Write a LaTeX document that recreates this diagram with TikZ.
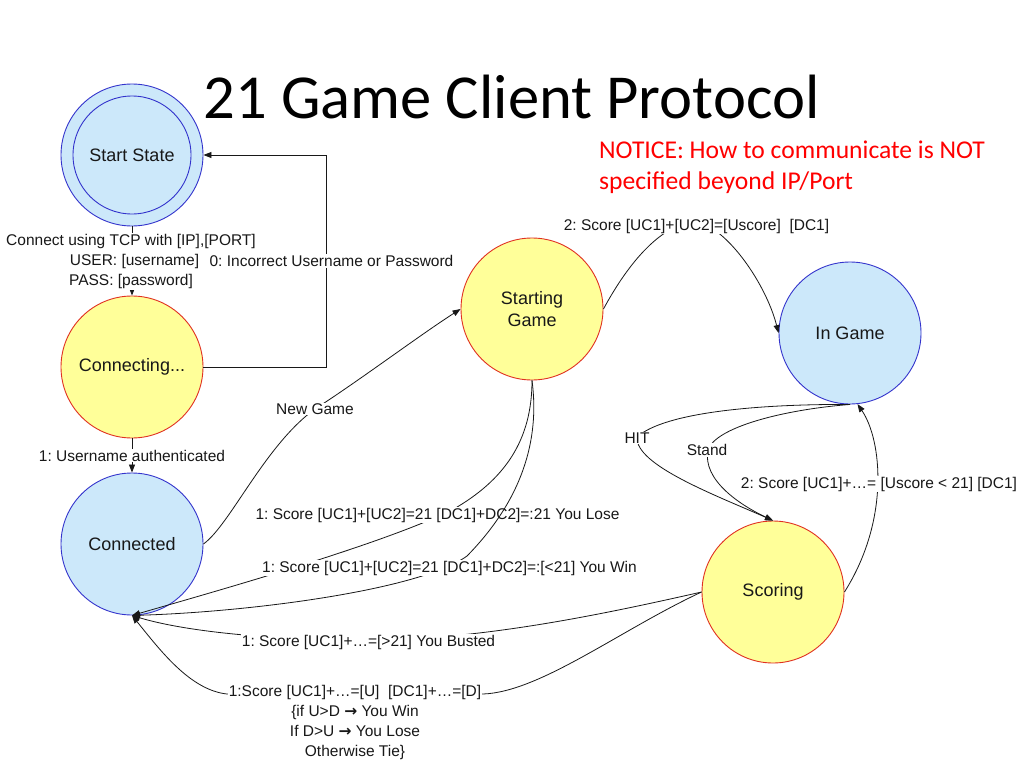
\documentclass[tikz,border=0pt]{standalone}
\usepackage{fontspec}
\setmainfont{Liberation Sans}
\newfontfamily\titlefont{Carlito}
\newfontfamily\arrowfont{DejaVu Sans}
\usetikzlibrary{arrows.meta}
\definecolor{bfill}{RGB}{204,232,250}
\definecolor{bdraw}{RGB}{51,51,204}
\definecolor{yfill}{RGB}{255,255,153}
\definecolor{ydraw}{RGB}{224,48,32}
\definecolor{ink}{RGB}{24,24,24}
\definecolor{noticered}{RGB}{255,0,0}
\newcommand{\rarr}{{\arrowfont\bfseries →}}
\frenchspacing
\begin{document}
\begin{tikzpicture}[x=1pt,y=-1pt,
  state/.style={circle,minimum size=142pt,inner sep=0pt,line width=0.9pt,
    font=\fontsize{18}{22}\selectfont,text=ink,align=center},
  bstate/.style={state,fill=bfill,draw=bdraw},
  ystate/.style={state,fill=yfill,draw=ydraw},
  edge/.style={draw=ink,line width=0.8pt,-{Triangle[length=8pt,width=6pt]}},
  lbl/.style={fill=white,inner sep=1pt,font=\fontsize{15.5}{20}\selectfont,text=ink,align=center}]
\path[use as bounding box] (0,0) rectangle (1024,768);

% title and notice
\node[font=\titlefont\fontsize{62.6}{75}\selectfont,anchor=base,inner sep=0pt,text=black] (title) at (511.5,118) {21 Game Client Protocol};
\node[font=\titlefont\fontsize{25.6}{31}\selectfont,anchor=base west,inner sep=0pt,text=noticered] (n1) at (599,158) {NOTICE: How to communicate is NOT};
\node[font=\titlefont\fontsize{25.6}{31}\selectfont,anchor=base west,inner sep=0pt,text=noticered] (n2) at (599,189) {specified beyond IP/Port};

% states
\node[bstate] (start) at (132,155) {};
\node[bstate,minimum size=118pt] (startin) at (132,155) {Start State};
\node[ystate] (conn) at (132,367) {Connecting...};
\node[bstate] (cted) at (132,544) {Connected};
\node[ystate] (sg) at (532,309) {Starting\\Game};
\node[bstate] (ing) at (850,333) {In Game};
\node[ystate] (sco) at (773,592) {Scoring};

% start -> connecting
\draw[edge] (start) -- (conn);
\node[lbl] (l1) at (131,261.5) {Connect using TCP with [IP],[PORT]\\\hspace*{7pt}USER: [username]\\PASS: [password]};

% connecting -> start
\draw[edge] (conn.east) -- ++(123,0) |- (start.east);
\node[lbl] (l2) at (331.5,261) {0: Incorrect Username or Password};

% connecting -> connected
\draw[edge] (conn) -- (cted) node[lbl,midway] (l3) {1: Username authenticated};

% new game
\draw[edge] (cted.east) .. controls (230,525) and (265,445) .. (315,409) .. controls (360,380) and (420,335) .. (sg.west);
\node[lbl] (l4) at (315,409) {New Game};

% you lose
\draw[edge] (sg.south) .. controls (532,440) and (505,480) .. (452,510) .. controls (380,545) and (220,590) .. (cted.south);
\node[lbl] (l5) at (437.5,515) {1: Score [UC1]+[UC2]=21 [DC1]+DC2]=:21 You Lose};

% you win
\draw[edge] (sg.south) .. controls (540,440) and (522,500) .. (467,556) .. controls (420,590) and (250,612) .. (cted.south);
\node[lbl] (l6) at (449.5,568) {1: Score [UC1]+[UC2]=21 [DC1]+DC2]=:[<21] You Win};

% starting game -> in game
\draw[edge] (sg.east) .. controls (630,260) and (660,228) .. (690,222) .. controls (720,218) and (765,280) .. (ing.west);
\node[lbl] (l7) at (696.5,226) {2: Score [UC1]+[UC2]=[Uscore]\ \ [DC1]};

% HIT
\draw[edge] (ing.south) .. controls (760,404) and (665,412) .. (637,437) .. controls (635,465) and (715,495) .. (sco.north);
\node[lbl] (l8) at (637,438) {HIT};

% Stand
\draw[edge] (ing.south) .. controls (780,410) and (715,428) .. (708,450) .. controls (702,480) and (740,505) .. (sco.north);
\node[lbl] (l9) at (707,450) {Stand};

% scoring -> in game
\draw[edge] (sco.east) .. controls (890,520) and (882,440) .. (ing.-84);
\node[lbl] (l10) at (879,484) {2: Score [UC1]+…= [Uscore < 21] [DC1]};

% busted
\draw[edge] (sco.west) .. controls (600,615) and (480,640) .. (368,640) .. controls (260,640) and (180,630) .. (cted.south);
\node[lbl] (l11) at (368.5,642) {1: Score [UC1]+…=[>21] You Busted};

% final score
\draw[edge] (sco.west) .. controls (620,630) and (540,692) .. (483,694) -- (227,694) .. controls (190,690) and (160,650) .. (cted.south);
\node[lbl] (l12) at (355,722) {1:Score [UC1]+…=[U]\ \ [DC1]+…=[D]\\\{if U>D \rarr\ You Win\\If D>U \rarr\ You Lose\\Otherwise Tie\}};
\end{tikzpicture}
\end{document}
